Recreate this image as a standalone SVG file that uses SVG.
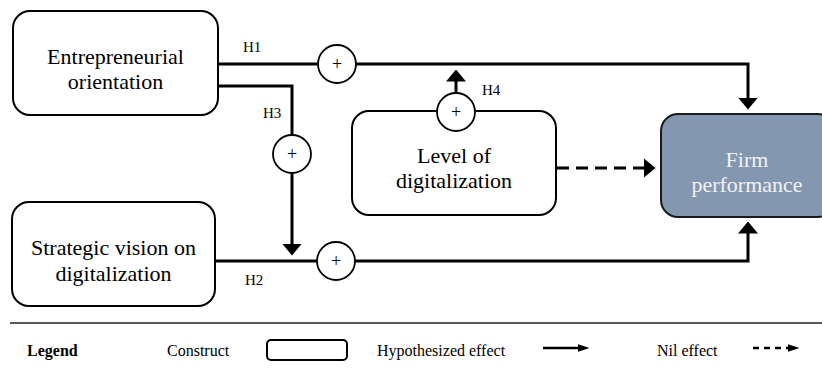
<svg xmlns="http://www.w3.org/2000/svg" width="822" height="374" viewBox="0 0 822 374">
<style>
  text { font-family: "Liberation Serif", "DejaVu Serif", "Noto Serif", serif; }
  .box { fill: #ffffff; stroke: #000000; stroke-width: 2; }
  .dark { fill: #8497b0; stroke: #1a1a1a; stroke-width: 2; }
  .lbl { font-size: 22px; fill: #000; text-anchor: middle; }
  .lblw { font-size: 22px; fill: #f2f2f2; text-anchor: middle; }
  .h { font-size: 15px; fill: #000; }
  .leg { font-size: 16px; fill: #000; }
  .conn { fill: none; stroke: #000; stroke-width: 3; }
  .dash { fill: none; stroke: #000; stroke-width: 3; stroke-dasharray: 12 7; }
  .mod { fill: #fff; stroke: #000; stroke-width: 1.8; }
  .plus { font-size: 18px; fill: #000; text-anchor: middle; }
</style>
<defs>
  <marker id="arr" markerUnits="userSpaceOnUse" viewBox="0 0 12 20" markerWidth="12" markerHeight="20" refX="0.5" refY="10" orient="auto">
    <path d="M0,0 L12,10 L0,20 Z" fill="#000"/>
  </marker>
  <marker id="arrs" markerUnits="userSpaceOnUse" viewBox="0 0 12 8" markerWidth="12" markerHeight="8" refX="0.5" refY="4" orient="auto">
    <path d="M0,0 L12,4 L0,8 Z" fill="#000"/>
  </marker>
</defs>

<g id="connectors">
  <path class="conn" d="M218,64 H748 V98" marker-end="url(#arr)"/>
  <path class="conn" d="M218,86 H292 V244" marker-end="url(#arr)"/>
  <path class="conn" d="M215,261 H748 V233" marker-end="url(#arr)"/>
  <path class="conn" d="M456,93 V81" marker-end="url(#arr)"/>
  <path class="dash" d="M557,168 H644" marker-end="url(#arr)"/>
</g>

<g id="entrepreneurial-orientation">
  <rect class="box" x="13" y="11" width="205" height="104" rx="17"/>
  <text class="lbl" x="115.5" y="64">Entrepreneurial</text>
  <text class="lbl" x="115.5" y="89">orientation</text>
</g>

<g id="strategic-vision">
  <rect class="box" x="12" y="202" width="203" height="104" rx="17"/>
  <text class="lbl" x="113.5" y="255">Strategic vision on</text>
  <text class="lbl" x="113.5" y="281">digitalization</text>
</g>

<g id="level-of-digitalization">
  <rect class="box" x="352" y="111" width="204" height="104" rx="17"/>
  <text class="lbl" x="454" y="163">Level of</text>
  <text class="lbl" x="454" y="188">digitalization</text>
</g>

<g id="firm-performance">
  <rect class="dark" x="661" y="114" width="174" height="103" rx="17"/>
  <text class="lblw" x="747" y="167">Firm</text>
  <text class="lblw" x="747" y="192">performance</text>
</g>

<g id="moderators">
  <g id="mod-h1">
    <circle class="mod" cx="337" cy="64" r="19"/>
    <text class="plus" x="337" y="70">+</text>
  </g>
  <g id="mod-h3">
    <circle class="mod" cx="292" cy="154" r="19"/>
    <text class="plus" x="292" y="160">+</text>
  </g>
  <g id="mod-h2">
    <circle class="mod" cx="336" cy="261" r="19"/>
    <text class="plus" x="336" y="267">+</text>
  </g>
  <g id="mod-h4">
    <circle class="mod" cx="456" cy="112" r="19"/>
    <text class="plus" x="456" y="118">+</text>
  </g>
</g>

<g id="hypothesis-labels">
  <text class="h" x="243" y="52">H1</text>
  <text class="h" x="263" y="118">H3</text>
  <text class="h" x="482" y="95">H4</text>
  <text class="h" x="245" y="285">H2</text>
</g>

<g id="legend">
  <line x1="10" y1="323" x2="822" y2="323" stroke="#222" stroke-width="1.5"/>
  <text class="leg" x="27" y="356" font-weight="bold">Legend</text>
  <text class="leg" x="167" y="356">Construct</text>
  <rect x="267" y="340" width="80" height="20" rx="4" fill="#fff" stroke="#000" stroke-width="2"/>
  <text class="leg" x="377" y="356">Hypothesized effect</text>
  <path d="M543,348 H578" stroke="#000" stroke-width="2.5" fill="none" marker-end="url(#arrs)"/>
  <text class="leg" x="657" y="356">Nil effect</text>
  <path d="M753,348 H788" stroke="#000" stroke-width="2.5" stroke-dasharray="6 5" fill="none" marker-end="url(#arrs)"/>
</g>
</svg>
